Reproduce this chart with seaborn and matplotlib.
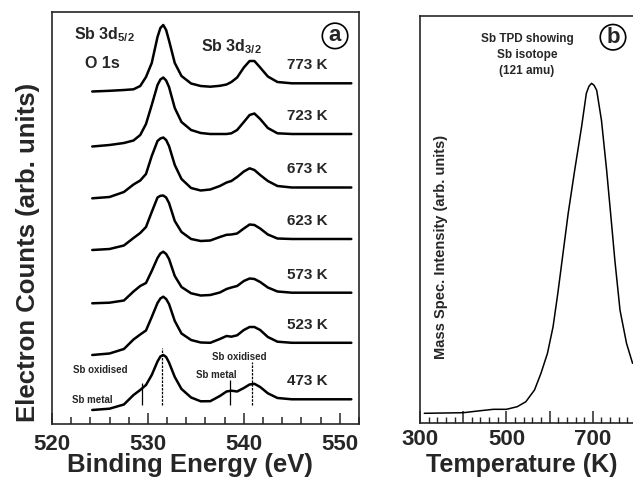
import matplotlib
matplotlib.use('Agg')
import matplotlib.pyplot as plt
from matplotlib.ticker import MultipleLocator, FuncFormatter
import pandas as pd
import seaborn as sns

# XPS spectra, panel (a): binding energy grid (eV) and stacked counts (arb. units)
binding_energy = [524.2, 526.0, 527.5, 528.5, 529.2, 529.8, 530.4, 531.0, 531.3, 531.6, 531.9,
                  532.2, 532.8, 533.5, 534.5, 535.5, 536.5, 537.5, 538.2, 538.7, 539.3, 540.0,
                  540.6, 541.1, 541.7, 542.5, 543.5, 545.0, 548.0, 551.2]
temperatures = ['773 K', '723 K', '673 K', '623 K', '573 K', '523 K', '473 K']
counts_773 = [332.5, 333.2, 334, 334.7, 338, 347, 361, 387, 396, 399, 394, 383.5, 361, 348, 340.5,
              338, 337.3, 338.2, 339.5, 342, 346.5, 356.5, 363, 363, 356.5, 347.5, 342, 340.7, 340.7, 340.7]
counts_723 = [277.5, 279, 281, 283.5, 289, 300, 319, 339, 344.5, 346.5, 343.5, 337, 316, 302, 294,
              291, 290, 290, 290, 290.7, 294, 302, 309, 310.5, 305, 296, 290.7, 290, 290, 290]
counts_673 = [225.7, 227, 232, 239.5, 243.5, 250, 268, 283, 285.5, 286.5, 284, 278, 259, 245, 236,
              233.5, 234.5, 238, 241.5, 243, 247, 252.5, 255.7, 254, 249, 243, 238, 236.5, 236.5, 236.5]
counts_623 = [174, 175, 178.5, 186, 191, 197, 212, 226.5, 228.2, 228.5, 226.5, 221, 203, 192, 185,
              183, 183.5, 187, 189.2, 189.5, 190.5, 195.5, 199.5, 199, 195.5, 189.5, 185.5, 185, 185, 185]
counts_573 = [120.7, 121.3, 123.5, 132.5, 138, 141, 153, 166, 170.5, 172.3, 170, 165, 148, 137, 130.7,
              128.5, 129, 131.5, 135, 136.5, 138, 143, 145.5, 145, 142, 136.5, 132.5, 131.3, 131.3, 131.3]
counts_523 = [69, 70.5, 75, 84.5, 89.5, 93.5, 107, 121, 125.5, 127.3, 125, 120, 103, 90.5, 84,
              81.5, 81.2, 85, 88, 87.3, 88.7, 94, 97, 97, 94, 87, 82.3, 81.2, 81.2, 81.2]
counts_473 = [14, 15.3, 19.5, 29, 34, 39, 49, 62.5, 67.5, 69, 67, 61.5, 47, 35, 26.5,
              22.7, 22.8, 28, 32.5, 33.3, 32.5, 36, 39.5, 40.2, 37, 30.7, 26, 24.7, 24.7, 24.7]
all_counts = [counts_773, counts_723, counts_673, counts_623, counts_573, counts_523, counts_473]

# peak markers on the 473 K spectrum
marker_be = [529.4, 531.5, 538.6, 540.9]
marker_top = [40.7, 75.7, 44, 62.3]
marker_dashed = [False, True, False, True]

# TPD, panel (b)
tpd_temp = [310, 400, 440, 470, 500, 525, 545, 565, 580, 595, 608, 619, 631, 643, 658,
            674, 685, 691, 697, 703, 709, 720, 732, 744, 751, 763, 778, 792]
tpd_intensity = [10, 10.6, 12.6, 14, 14, 16.6, 21.6, 33.3, 50, 70, 96.6, 130, 170, 210, 253,
                 296.6, 330, 337, 340, 338, 333, 303, 253, 196.6, 163, 113, 80, 60]

sns.set_style('ticks')
plt.rcParams['font.family'] = ['Liberation Sans', 'DejaVu Sans']
plt.rcParams['font.weight'] = 'bold'
plt.rcParams['mathtext.fontset'] = 'custom'
plt.rcParams['mathtext.rm'] = 'Liberation Sans:bold'
plt.rcParams['mathtext.bf'] = 'Liberation Sans:bold'
plt.rcParams['mathtext.it'] = 'Liberation Sans:bold'

fig = plt.figure(figsize=(6.33, 4.86), dpi=100)
ax1 = fig.add_axes([0.0821, 0.1276, 0.485, 0.8477])
ax2 = fig.add_axes([0.6635, 0.129, 0.3365, 0.838])

rows = []
for temp, counts in zip(temperatures, all_counts):
    for be, c in zip(binding_energy, counts):
        rows.append({'Binding Energy': be, 'Counts': c, 'Temperature': temp})
xps = pd.DataFrame(rows)

sns.lineplot(data=xps, x='Binding Energy', y='Counts', units='Temperature', estimator=None,
             sort=False, color='black', lw=1.8, ax=ax1)

for be, top, dashed in zip(marker_be, marker_top, marker_dashed):
    ax1.vlines(be, 19, top, colors='black', lw=0.9, linestyles=(0, (2, 1)) if dashed else 'solid')

for temp, counts in zip(temperatures, all_counts):
    ax1.text(546.6, counts[-1] + 18, temp, ha='center', va='center', fontsize=11, fontweight='bold')

ax1.text(525.5, 389, r'Sb 3d$_{5/2}$', ha='center', va='center', fontsize=11.5, fontweight='bold')
ax1.text(525.3, 361, 'O 1s', ha='center', va='center', fontsize=11.5, fontweight='bold')
ax1.text(538.75, 377, r'Sb 3d$_{3/2}$', ha='center', va='center', fontsize=11.5, fontweight='bold')

ax1.annotate('Sb oxidised', xy=(531.4, 75.7), xytext=(525.0, 54), fontsize=7, fontweight='bold',
             ha='center', va='center', arrowprops=dict(arrowstyle='-', lw=0.9, shrinkA=0, shrinkB=0))
ax1.annotate('Sb metal', xy=(529.3, 40.7), xytext=(524.2, 24), fontsize=7, fontweight='bold',
             ha='center', va='center', arrowprops=dict(arrowstyle='-', lw=0.9, shrinkA=0, shrinkB=0))
ax1.text(537.1, 49, 'Sb metal', ha='center', va='center', fontsize=7, fontweight='bold')
ax1.text(539.5, 67, 'Sb oxidised', ha='center', va='center', fontsize=7, fontweight='bold')

ax1.text(0.922, 0.942, 'a', transform=ax1.transAxes, ha='center', va='center', fontsize=16,
         fontweight='bold', bbox=dict(boxstyle='circle,pad=0.1', fc='white', ec='black', lw=1.2))

ax1.set_xlim(520, 552)
ax1.set_ylim(0, 412)
ax1.set_yticks([])
ax1.xaxis.set_major_locator(MultipleLocator(10))
ax1.xaxis.set_minor_locator(MultipleLocator(2))
ax1.tick_params(axis='x', which='major', direction='in', length=8, width=1.1, pad=7, labelsize=16)
ax1.tick_params(axis='x', which='minor', direction='in', length=5, width=1.1)
ax1.set_xlabel('Binding Energy (eV)', fontsize=18.5, fontweight='bold')
ax1.xaxis.set_label_coords(0.45, -0.07)
ax1.set_ylabel('Electron Counts (arb. units)', fontsize=18.5, fontweight='bold')
ax1.yaxis.set_label_coords(-0.04, 0.4175)
for s in ax1.spines.values():
    s.set_linewidth(1.2)

# panel (b)
sns.lineplot(x=tpd_temp, y=tpd_intensity, color='black', lw=1.1, ax=ax2)
ax2.set_xlim(300, 793)
ax2.set_ylim(0, 407.3)
ax2.set_yticks([])
ax2.xaxis.set_major_locator(MultipleLocator(100))
ax2.xaxis.set_minor_locator(MultipleLocator(20))
ax2.xaxis.set_major_formatter(FuncFormatter(lambda v, p: f'{v:.0f}' if int(v) % 200 == 100 else ''))
ax2.tick_params(axis='x', which='major', direction='in', length=9, width=1.1, pad=4, labelsize=16)
ax2.tick_params(axis='x', which='minor', direction='in', length=4, width=1.0)
ax2.spines['right'].set_visible(False)
for s in ax2.spines.values():
    s.set_linewidth(1.2)
ax2.set_xlabel('Temperature (K)', fontsize=18, fontweight='bold')
ax2.xaxis.set_label_coords(0.477, -0.073)

ax2.text(0.502, 0.905, 'Sb TPD showing\nSb isotope\n(121 amu)', transform=ax2.transAxes,
         ha='center', va='center', fontsize=8.5, fontweight='bold', linespacing=1.45)
ax2.text(0.1, 0.433, 'Mass Spec. Intensity (arb. units)', transform=ax2.transAxes,
         rotation=90, ha='center', va='center', fontsize=10.5, fontweight='bold')
ax2.text(0.906, 0.948, 'b', transform=ax2.transAxes, ha='center', va='center', fontsize=16,
         fontweight='bold', bbox=dict(boxstyle='circle,pad=0.1', fc='white', ec='black', lw=1.2))

fig.savefig('out.png', dpi=100)
